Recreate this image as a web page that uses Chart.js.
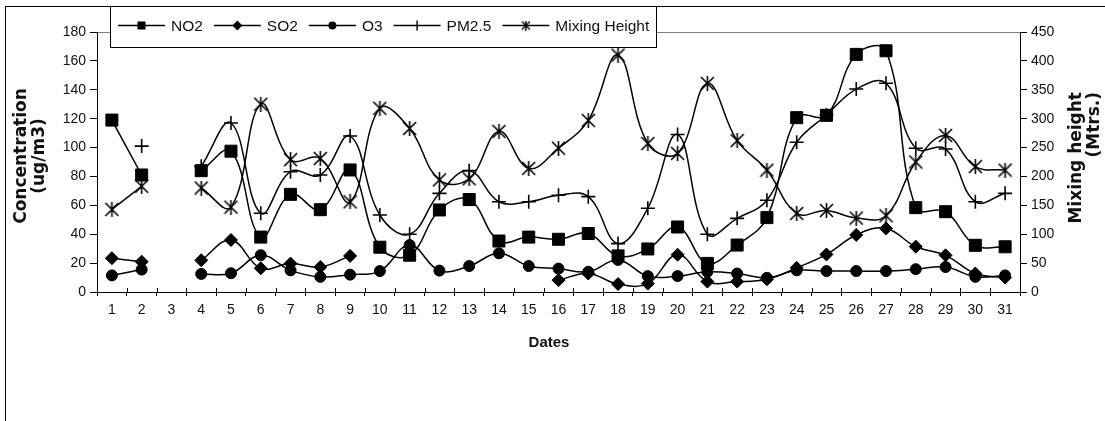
<!DOCTYPE html>
<html>
<head>
<meta charset="utf-8">
<script src="https://cdn.jsdelivr.net/npm/chart.js@4.4.1/dist/chart.umd.min.js"></script>
<style>
  html, body { margin: 0; padding: 0; background: #fff; }
  #wrap { position: relative; width: 1105px; height: 421px; overflow: hidden; }
  #frame { position: absolute; left: 5px; top: 6px; width: 1200px; height: 500px;
           border-left: 1px solid #000; border-top: 1px solid #000; }
  canvas { position: absolute; left: 0; top: 0; }
</style>
</head>
<body>
<div id="wrap">
  <div id="frame"></div>
  <canvas id="chart" width="1105" height="421"></canvas>
</div>
<script>
// Werte (Tag 3 fehlt)
const dates = ["1","2","3","4","5","6","7","8","9","10","11","12","13","14","15","16",
               "17","18","19","20","21","22","23","24","25","26","27","28","29","30","31"];

const no2 = [119, 81, null, 84, 97.5, 38, 67.6, 57, 84.5, 31, 25.5, 56.8, 64, 35.3, 38, 36.5,
             40.5, 25, 29.8, 45, 19.8, 32.5, 51.5, 120.7, 122.3, 164.5, 167, 58.4, 55.6, 32.3, 31.3];
const so2 = [23.4, 21, null, 22, 36, 16.4, 19.7, 17.3, 25, null, null, null, null, null, null, 8.2,
             12.8, 5.5, 5.8, 25.8, 7.2, 7.2, 8.8, 16.7, 26, 39.5, 44, 31.4, 25.4, 12.8, 10];
const o3 = [11.5, 15.5, null, 12.5, 13, 25.5, 15, 10.5, 12, 14.5, 32.5, 14.8, 18, 26.8, 18, 16.2,
            14, 22.2, 11, 11, 14, 12.8, 9.8, 15, 14.5, 14.5, 14.5, 15.8, 17.3, 10.5, 11.5];
const pm25 = [null, 101, null, 87, 117, 54.5, 83.3, 81, 108, 53.3, 40, 68.3, 84, 62.5, 62.5, 67,
              66, 33.5, 58, 109, 40, 51, 63.5, 103.7, 122.5, 140.5, 144.5, 99.5, 99, 62.5, 68.3];
const mixHeight = [143, 183, null, 180, 147, 325, 229, 231, 156, 318, 283, 194, 196, 278, 214, 249,
                   297, 410, 257, 240, 361, 262, 211, 136, 141, 128, 132, 225, 271, 217, 211];

const leftTicks = [0, 20, 40, 60, 80, 100, 120, 140, 160, 180];
const rightTicks = [0, 50, 100, 150, 200, 250, 300, 350, 400, 450];

const leftTitle = ["Concentration", "(ug/m3)"];
const rightTitle = ["Mixing height", "(Mtrs.)"];
const xTitle = "Dates";

const TICK_FONT = '"Liberation Sans", Arial, sans-serif';
const TITLE_FONT = 'bold 17px "DejaVu Sans", sans-serif';

// Stern-Marker (X mit senkrechtem Strich), wie im Original
function makeStar(size, lw) {
  const c = document.createElement('canvas');
  c.width = size; c.height = size;
  const g = c.getContext('2d');
  g.strokeStyle = '#000';
  g.lineWidth = lw;
  const m = size / 2, a = 1;
  g.beginPath();
  g.moveTo(a, a); g.lineTo(size - a, size - a);
  g.moveTo(size - a, a); g.lineTo(a, size - a);
  g.moveTo(m, 0); g.lineTo(m, size);
  g.stroke();
  return c;
}
const starBig = makeStar(15, 1.6);
const starSmall = makeStar(10, 1.4);

// Marker für die Legende zeichnen
function drawMarker(ctx, style, x, y) {
  ctx.save();
  ctx.fillStyle = '#000';
  ctx.strokeStyle = '#000';
  ctx.lineWidth = 1.4;
  ctx.beginPath();
  if (style === 'rect') {
    ctx.fillRect(x - 4, y - 4, 8, 8);
  } else if (style === 'rectRot') {
    ctx.moveTo(x, y - 5); ctx.lineTo(x + 5, y); ctx.lineTo(x, y + 5); ctx.lineTo(x - 5, y);
    ctx.closePath(); ctx.fill();
  } else if (style === 'circle') {
    ctx.arc(x, y, 4, 0, Math.PI * 2); ctx.fill();
  } else if (style === 'cross') {
    ctx.moveTo(x, y - 5); ctx.lineTo(x, y + 5); ctx.stroke();
  } else {
    ctx.drawImage(starSmall, x - 5, y - 5);
  }
  ctx.restore();
}

const boxLegend = {
  id: 'boxLegend',
  afterDraw(chart) {
    const ctx = chart.ctx;
    ctx.save();
    ctx.fillStyle = '#fff';
    ctx.fillRect(110.5, 6.5, 546, 41);
    ctx.strokeStyle = '#000';
    ctx.lineWidth = 1;
    ctx.strokeRect(110.5, 6.5, 546, 41);
    ctx.font = '15.5px ' + TICK_FONT;
    ctx.textBaseline = 'middle';
    let x = 118;
    const y = 25.5;
    chart.data.datasets.forEach(ds => {
      ctx.strokeStyle = '#000';
      ctx.lineWidth = 1.4;
      ctx.beginPath(); ctx.moveTo(x, y); ctx.lineTo(x + 47, y); ctx.stroke();
      drawMarker(ctx, ds.legendStyle, x + 23.5, y);
      ctx.fillStyle = '#111';
      ctx.fillText(ds.label, x + 53, y + 1);
      x += 53 + ctx.measureText(ds.label).width + 11;
    });
    ctx.restore();
  }
};

const frameAndTitles = {
  id: 'frameAndTitles',
  beforeDraw(chart) {
    const a = chart.chartArea, ctx = chart.ctx;
    ctx.save();
    ctx.strokeStyle = '#808080';
    ctx.lineWidth = 1;
    ctx.strokeRect(a.left + 0.5, a.top + 0.5, a.right - a.left, a.bottom - a.top);
    ctx.restore();
  },
  afterDraw(chart) {
    const ctx = chart.ctx, a = chart.chartArea;
    const xs = chart.scales.x;
    // Teilstriche der X-Achse auch nach innen
    ctx.save();
    ctx.strokeStyle = '#000';
    ctx.lineWidth = 1;
    const step = (a.right - a.left) / dates.length;
    for (let i = 0; i <= dates.length; i++) {
      const px = Math.round(xs.getPixelForValue(0) - step / 2 + i * step) + 0.5;
      ctx.beginPath(); ctx.moveTo(px, a.bottom - 4); ctx.lineTo(px, a.bottom); ctx.stroke();
    }
    // Achsentitel
    ctx.fillStyle = '#111';
    ctx.textBaseline = 'middle';
    ctx.textAlign = 'center';
    ctx.font = 'bold 15px ' + TICK_FONT;
    ctx.fillText(xTitle, 549, 343);
    ctx.font = TITLE_FONT;
    ctx.save();
    ctx.translate(22, 156);
    ctx.rotate(-Math.PI / 2);
    ctx.fillText(leftTitle[0], 0, 0);
    ctx.fillText(leftTitle[1], 0, 18);
    ctx.restore();
    ctx.save();
    ctx.translate(1077, 92);
    ctx.rotate(-Math.PI / 2);
    ctx.textAlign = 'right';
    ctx.fillText(rightTitle[0], 0, 0);
    ctx.fillText(rightTitle[1], 0, 18);
    ctx.restore();
    ctx.restore();
  }
};

function series(label, data, style, radius, axis, extra) {
  return Object.assign({
    label: label,
    data: data,
    yAxisID: axis,
    borderColor: '#000',
    backgroundColor: '#000',
    borderWidth: 1.5,
    pointStyle: style,
    legendStyle: style,
    pointRadius: radius,
    pointHoverRadius: radius,
    pointBackgroundColor: '#000',
    pointBorderColor: '#000',
    pointBorderWidth: 1,
    tension: 0.4,
    spanGaps: false,
    fill: false
  }, extra || {});
}

new Chart(document.getElementById('chart'), {
  type: 'line',
  data: {
    labels: dates,
    datasets: [
      series('NO2', no2, 'rect', 8.5, 'y'),
      series('SO2', so2, 'rectRot', 6.5, 'y'),
      series('O3', o3, 'circle', 5.5, 'y'),
      series('PM2.5', pm25, 'cross', 7, 'y', { pointBorderWidth: 1.6 }),
      series('Mixing Height', mixHeight, starBig, 7.5, 'y1', { legendStyle: 'star' })
    ]
  },
  options: {
    responsive: false,
    animation: false,
    devicePixelRatio: 1,
    layout: { padding: { top: 32, left: 0, right: 0, bottom: 66 } },
    plugins: { legend: { display: false }, tooltip: { enabled: false } },
    scales: {
      x: {
        type: 'category',
        offset: true,
        afterFit(s) { s.height = 63; },
        grid: { offset: true, drawOnChartArea: false, tickLength: 4, color: '#000' },
        border: { color: '#000', width: 1 },
        ticks: { autoSkip: false, maxRotation: 0, padding: 6, color: '#111', font: { family: TICK_FONT, size: 14 } }
      },
      y: {
        position: 'left',
        min: 0, max: 180,
        afterFit(s) { s.width = 97; },
        afterBuildTicks(s) { s.ticks = leftTicks.map(v => ({ value: v })); },
        grid: { drawOnChartArea: false, tickLength: 7, color: '#000' },
        border: { color: '#000', width: 1 },
        ticks: { padding: 4, color: '#111', font: { family: TICK_FONT, size: 14 } }
      },
      y1: {
        position: 'right',
        min: 0, max: 450,
        afterFit(s) { s.width = 85; },
        afterBuildTicks(s) { s.ticks = rightTicks.map(v => ({ value: v })); },
        grid: { drawOnChartArea: false, tickLength: 7, color: '#000' },
        border: { color: '#000', width: 1 },
        ticks: { padding: 4, color: '#111', font: { family: TICK_FONT, size: 14 } }
      }
    }
  },
  plugins: [frameAndTitles, boxLegend]
});
</script>
</body>
</html>
